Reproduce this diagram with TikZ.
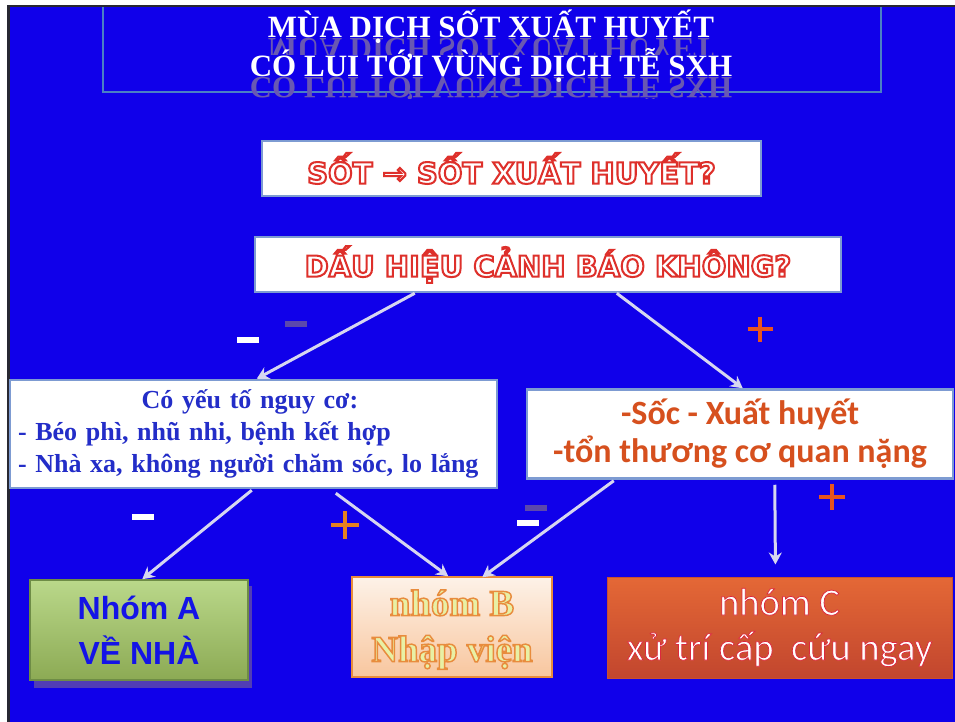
\documentclass[tikz,border=0pt]{standalone}
\usepackage{fontspec}
\setmainfont{Liberation Serif}
\newfontfamily\dejaoutl{DejaVu Sans Bold}[FakeBold=7]
\newfontfamily\carlfont{Carlito}
\newfontfamily\carloutl{Carlito}[FakeBold=2]
\newfontfamily\serifoutl{Liberation Serif Bold}[FakeBold=4]
\newfontfamily\lsansfont{Liberation Sans}
\newcommand{\strokergb}[3]{\special{pdf:literal direct #1 #2 #3 RG}}
\usetikzlibrary{arrows.meta,calc}
\definecolor{bgblue}{RGB}{16,0,234}
\definecolor{frame}{RGB}{40,40,50}
\definecolor{titleline}{RGB}{74,128,196}
\definecolor{reflcol}{RGB}{105,88,178}
\definecolor{boxline}{RGB}{125,155,210}
\definecolor{arrowcol}{RGB}{214,214,240}
\definecolor{riskblue}{RGB}{35,45,200}
\definecolor{sevred}{RGB}{214,80,30}
\definecolor{nablue}{RGB}{20,20,230}
\definecolor{bfill}{RGB}{232,240,165}
\definecolor{bline}{RGB}{232,140,60}
\definecolor{plusred}{RGB}{232,84,30}
\definecolor{plusorange}{RGB}{228,128,32}
\definecolor{minuspurple}{RGB}{92,72,172}
\tikzset{
  wbox/.style={draw=boxline, line width=2.5pt, fill=white, inner sep=0pt},
  conn/.style={draw=arrowcol, line width=3pt, -{Stealth[length=12pt,width=13pt,inset=4pt]}},
  minusw/.style={fill=white, inner sep=0pt, minimum width=22pt, minimum height=6pt},
  minusp/.style={fill=minuspurple, inner sep=0pt, minimum width=22pt, minimum height=6pt},
  titletext/.style={text=white, font=\bfseries\fontsize{31}{35}\selectfont, anchor=base, inner sep=0pt},
  refltext/.style={text=reflcol, font=\bfseries\fontsize{31}{35}\selectfont, anchor=base, inner sep=0pt, yscale=-1, transform shape},
}
\newcommand{\plusmark}[3]{% position, colour, half size
  \draw[#2, line width=4pt] ($#1+(-#3,0)$) -- ($#1+(#3,0)$);
  \draw[#2, line width=4pt] ($#1+(0,-#3)$) -- ($#1+(0,#3)$);
}
\begin{document}
\begin{tikzpicture}[x=1pt,y=-1pt]
\useasboundingbox (0,0) rectangle (955,722);
% background and frame
\fill[white] (0,0) rectangle (955,722);
\fill[frame] (7,5) rectangle (955,722);
\fill[bgblue] (10,7) rectangle (955,722);
% title box (open at top)
\draw[titleline, line width=2.5pt] (103,7) -- (103,92) -- (881,92) -- (881,7);
% reflections
\begin{scope}
  \clip (100,39) rectangle (885,55);
  \node[refltext] (r1) at (491,39) {MÙA DỊCH SỐT XUẤT HUYẾT};
\end{scope}
\begin{scope}
  \clip (100,78) rectangle (885,99);
  \node[refltext] (r2) at (491,78) {CÓ LUI TỚI VÙNG DỊCH TỄ SXH};
\end{scope}
\node[titletext] (t1) at (491,38) {MÙA DỊCH SỐT XUẤT HUYẾT};
\node[titletext] (t2) at (491,77) {CÓ LUI TỚI VÙNG DỊCH TỄ SXH};

% question boxes
\node[wbox, minimum width=499pt, minimum height=55pt,
  font=\dejaoutl\fontsize{29}{33}\selectfont, text=white]
  (q1) at (511.5,168.5) {\strokergb{0.87}{0.19}{0.17}SỐT → SỐT XUẤT HUYẾT?};
\node[wbox, minimum width=586pt, minimum height=55pt,
  font=\dejaoutl\fontsize{29}{33}\selectfont, text=white]
  (q2) at (548,264.5) {\strokergb{0.87}{0.19}{0.17}DẤU HIỆU CẢNH BÁO KHÔNG?};

% middle boxes
\node[wbox, minimum width=487pt, minimum height=108pt, text width=471pt, align=left,
  font=\bfseries\fontsize{26}{32}\selectfont, text=riskblue]
  (risk) at (253.5,434) {\makebox[464pt][c]{Có yếu tố nguy cơ:}\\- Béo phì, nhũ nhi, bệnh kết hợp\\- Nhà xa, không người chăm sóc, lo lắng};
\node[wbox, minimum width=426pt, minimum height=89pt, align=center,
  font=\carlfont\bfseries\fontsize{34}{38}\selectfont, text=sevred]
  (sev) at (740,434) {-Sốc - Xuất huyết\\-tổn thương cơ quan nặng};

% bottom boxes
\fill[minuspurple!85!bgblue] (34,586) rectangle (252,688);
\node[draw={rgb,255:red,110;green,140;blue,70}, line width=1.5pt,
  top color={rgb,255:red,186;green,216;blue,138}, bottom color={rgb,255:red,140;green,170;blue,84},
  minimum width=218pt, minimum height=100pt, inner sep=0pt, align=center,
  font=\lsansfont\bfseries\fontsize{32}{45}\selectfont, text=nablue]
  (A) at (139,630) {Nhóm A\\VỀ NHÀ};
\node[draw=bline, line width=1.5pt,
  top color={rgb,255:red,253;green,242;blue,232}, bottom color={rgb,255:red,248;green,198;blue,158},
  minimum width=200pt, minimum height=100pt, inner sep=0pt, align=center,
  font=\serifoutl\fontsize{37}{46}\selectfont, text=bfill]
  (B) at (452,627) {\strokergb{0.91}{0.55}{0.24}\rule{0pt}{31pt}nhóm B\\Nhập viện};
\node[draw={rgb,255:red,200;green,80;blue,50}, line width=1pt,
  top color={rgb,255:red,228;green,104;blue,54}, bottom color={rgb,255:red,194;green,70;blue,46},
  minimum width=345pt, minimum height=101pt, inner sep=0pt, align=center,
  font=\carloutl\fontsize{38.5}{45}\selectfont, text=white]
  (C) at (779.5,627.5) {\strokergb{0.86}{0.16}{0.24}nhóm C\\xử trí cấp\ \ cứu ngay};

% connectors
\draw[conn] ([xshift=161pt]q2.south west) -- ([xshift=248pt]risk.north west);
\draw[conn] ([xshift=363pt]q2.south west) -- ([xshift=217pt]sev.north west);
\draw[conn] ([xshift=243pt,yshift=-1pt]risk.south west) -- ([xshift=113pt]A.north west);
\draw[conn] ([xshift=327pt,yshift=-4pt]risk.south west) -- ([xshift=97pt]B.north west);
\draw[conn] ([xshift=88pt,yshift=-1pt]sev.south west) -- ([xshift=131pt,yshift=-1pt]B.north west);
\draw[conn, shorten <=5pt, shorten >=12pt] ([xshift=249pt]sev.south west) -- ([xshift=169pt]C.north west);

% signs
\node[minusw] (m1) at (248,340) {};
\node[minusp] (m2) at (296,324) {};
\node[minusw] (m3) at (143,517) {};
\node[minusp] (m4) at (536,508) {};
\node[minusw] (m5) at (528,523) {};
\plusmark{(760,329)}{plusred}{12.5}
\plusmark{(345,525)}{plusorange}{14}
\plusmark{(832,497)}{plusred}{13}
\end{tikzpicture}
\end{document}
